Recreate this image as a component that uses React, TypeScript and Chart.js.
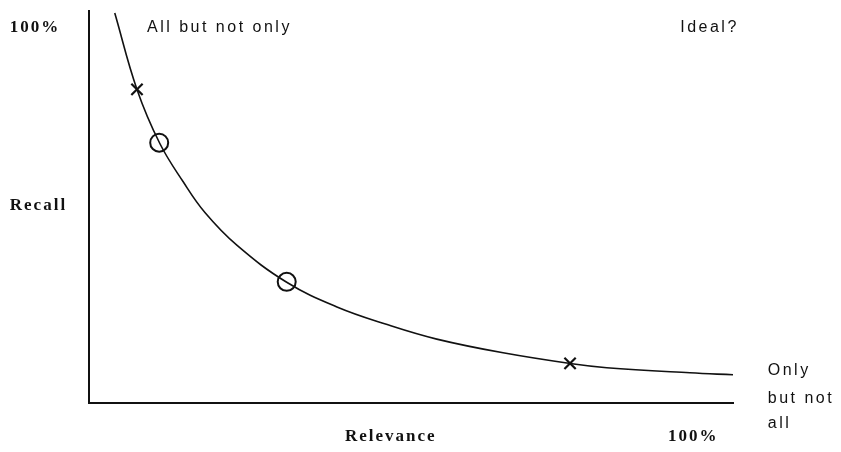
import React, { useEffect, useRef } from "react";
import { Chart, registerables } from "chart.js";

Chart.register(...registerables);

// Trade-off curve (Relevance on x, Recall on y), in percent
const curveRelevance = [4.0, 7.45, 11.0, 14.6, 18.0, 23.0, 30.7, 38.5, 46.3, 54.0, 64.3, 75.0, 80.4, 93.3, 100];
const curveRecall = [99.5, 80, 66.2, 56.5, 48.6, 40.2, 30.8, 24.5, 20, 16.3, 12.8, 10, 9, 7.7, 7.2];

// Marked systems
const crossRelevance = [7.45, 74.7];
const crossRecall = [80, 10.1];
const circleRelevance = [10.9, 30.7];
const circleRecall = [66.4, 30.9];

// Annotation texts, placed in data coordinates (left anchor, middle baseline)
const labelTexts = ["100%", "All but not only", "Ideal?", "Recall", "Only", "but not", "all", "Relevance", "100%"];
const labelX = [-12.3, 9.0, 91.8, -12.3, 105.4, 105.4, 105.4, 39.75, 89.9];
const labelY = [95.75, 95.75, 95.75, 50.25, 8.25, 1.25, -5.25, -8.5, -8.5];
const labelSerif = [true, false, false, true, false, false, false, true, true];

const labelPlugin = {
  id: "labels",
  afterDraw(chart: any) {
    const { ctx, scales } = chart;
    ctx.save();
    ctx.fillStyle = "#111";
    ctx.textBaseline = "middle";
    ctx.textAlign = "left";
    labelTexts.forEach((t, i) => {
      const serif = labelSerif[i];
      ctx.font = serif ? "bold 17px 'Liberation Serif'" : "16px 'Liberation Sans'";
      (ctx as any).letterSpacing = serif ? "2px" : "2.5px";
      ctx.fillText(t, scales.x.getPixelForValue(labelX[i]), scales.y.getPixelForValue(labelY[i]));
    });
    ctx.restore();
  },
};

export default function App() {
  const ref = useRef<HTMLCanvasElement | null>(null);
  useEffect(() => {
    document.body.style.margin = "0";
    const chart = new Chart(ref.current as HTMLCanvasElement, {
      type: "line",
      data: {
        datasets: [
          {
            data: curveRelevance.map((x, i) => ({ x, y: curveRecall[i] })),
            borderColor: "#111",
            borderWidth: 1.6,
            pointRadius: 0,
            tension: 0.4,
            fill: false,
            clip: false as any,
          },
          {
            data: crossRelevance.map((x, i) => ({ x, y: crossRecall[i] })),
            showLine: false,
            pointStyle: "crossRot",
            pointRadius: 8,
            pointBorderWidth: 2.2,
            pointBorderColor: "#111",
            pointBackgroundColor: "transparent",
          },
          {
            data: circleRelevance.map((x, i) => ({ x, y: circleRecall[i] })),
            showLine: false,
            pointStyle: "circle",
            pointRadius: 9,
            pointBorderWidth: 2,
            pointBorderColor: "#111",
            pointBackgroundColor: "transparent",
          },
        ],
      },
      options: {
        animation: false,
        responsive: false,
        layout: { padding: { left: 89, right: 108, top: 3, bottom: 49 } },
        plugins: { legend: { display: false }, tooltip: { enabled: false } },
        scales: {
          x: {
            type: "linear",
            min: 0,
            max: 100,
            ticks: { display: false },
            grid: { display: false, drawTicks: false },
            border: { display: true, color: "#111", width: 2 },
          },
          y: {
            type: "linear",
            min: 0,
            max: 100,
            ticks: { display: false },
            grid: { display: false, drawTicks: false },
            border: { display: true, color: "#111", width: 2 },
          },
        },
      },
      plugins: [labelPlugin],
    });
    return () => chart.destroy();
  }, []);
  return (
    <div style={{ position: "absolute", left: 0, top: 0, width: 841, height: 452, background: "#fff" }}>
      <canvas ref={ref} width={841} height={452} style={{ width: 841, height: 452 }} />
    </div>
  );
}
